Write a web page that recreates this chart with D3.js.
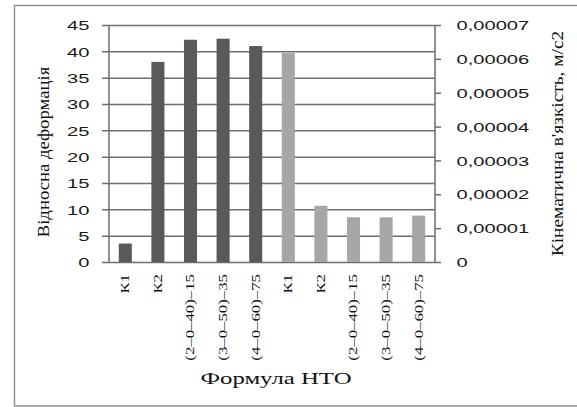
<!DOCTYPE html>
<html>
<head>
<meta charset="utf-8">
<script src="https://cdn.jsdelivr.net/npm/d3@7"></script>
<style>
  html, body { margin: 0; padding: 0; background: #fff; }
  svg { display: block; }
</style>
</head>
<body>
<svg id="chart" width="577" height="407"></svg>
<script>
// Categories along the x axis (two groups of the same five formulas)
const categories = ["К1", "К2", "(2–0–40)–15", "(3–0–50)–35", "(4–0–60)–75",
                    "К1", "К2", "(2–0–40)–15", "(3–0–50)–35", "(4–0–60)–75"];
// Relative deformation (left axis), first five categories
const deformation = [3.5, 38, 42.2, 42.4, 41, null, null, null, null, null];
// Kinematic viscosity, m/s2 (right axis), last five categories
const viscosity = [null, null, null, null, null, 0.0000617, 0.0000166, 0.0000132, 0.0000132, 0.0000137];
// Tick values
const leftTicks = [0, 5, 10, 15, 20, 25, 30, 35, 40, 45];
const rightTicks = [0, 0.00001, 0.00002, 0.00003, 0.00004, 0.00005, 0.00006, 0.00007];

const leftTitle = "Відносна деформація";
const rightTitle = "Кінематична в'язкість, м/с2";
const xTitle = "Формула НТО";

const svg = d3.select("#chart");
const plot = { left: 109, right: 435, top: 25, bottom: 262 };

const sans = "'Liberation Sans', Arial, sans-serif";
const serif = "'Liberation Serif', 'Times New Roman', serif";
const gridColor = "#6e6e6e";
const lineW = 1.5;
const stretch = 1.55; // horizontal widening of the horizontal labels

const x = d3.scaleBand()
  .domain(d3.range(categories.length))
  .range([plot.left, plot.right])
  .paddingInner(0.6).paddingOuter(0.3);

const yL = d3.scaleLinear().domain([0, 45]).range([plot.bottom, plot.top]);
const yR = d3.scaleLinear().domain([0, 0.00007]).range([plot.bottom, plot.top]);

// Outer frame (open on the right)
svg.append("path")
  .attr("d", "M577,5.5H14.5V406H577")
  .attr("fill", "none").attr("stroke", "#8f8f8f").attr("stroke-width", 1.4);

// Gridlines: full-width lines from the left axis with a short outer tick
svg.append("g")
  .attr("transform", `translate(${plot.left},0)`)
  .call(d3.axisLeft(yL).tickValues(leftTicks).tickSizeInner(-(plot.right - plot.left)).tickSizeOuter(0).tickFormat(""))
  .call(g => g.select(".domain").remove())
  .call(g => g.selectAll(".tick line").attr("x1", -7).attr("stroke", gridColor).attr("stroke-width", lineW));

// Axis lines with the right outer ticks
svg.append("path")
  .attr("d", `M${plot.left},${plot.top}V${plot.bottom}M${plot.right},${plot.top}V${plot.bottom}`)
  .attr("fill", "none").attr("stroke", gridColor).attr("stroke-width", lineW);
svg.append("g")
  .attr("transform", `translate(${plot.right},0)`)
  .call(d3.axisRight(yR).tickValues(rightTicks).tickSizeInner(6).tickSizeOuter(0).tickFormat(""))
  .call(g => g.select(".domain").remove())
  .call(g => g.selectAll(".tick line").attr("stroke", gridColor).attr("stroke-width", lineW));

// Bars: deformation (dark) and viscosity (light)
svg.append("g").selectAll("rect").data(deformation.map((v, i) => ({ v, i })).filter(d => d.v != null))
  .join("rect")
  .attr("x", d => x(d.i)).attr("width", x.bandwidth())
  .attr("y", d => yL(d.v)).attr("height", d => yL(0) - yL(d.v))
  .attr("fill", "#595959");

svg.append("g").selectAll("rect").data(viscosity.map((v, i) => ({ v, i })).filter(d => d.v != null))
  .join("rect")
  .attr("x", d => x(d.i)).attr("width", x.bandwidth())
  .attr("y", d => yR(d.v)).attr("height", d => yR(0) - yR(d.v))
  .attr("fill", "#a6a6a6");

// Left axis labels
const gL = svg.append("g").attr("transform", `translate(${plot.left},0)`)
  .call(d3.axisLeft(yL).tickValues(leftTicks).tickSize(0).tickPadding(0));
gL.select(".domain").remove();
gL.selectAll(".tick line").remove();
gL.selectAll(".tick text")
  .attr("x", null).attr("dy", "0.36em")
  .attr("transform", `translate(-19.5,0) scale(${stretch},1)`)
  .attr("font-family", sans).attr("font-size", 13).attr("fill", "#1a1a1a");

// Right axis labels
const locale = d3.formatLocale({ decimal: ",", thousands: " ", grouping: [3], currency: ["", ""] });
const fmtR = d => d === 0 ? "0" : locale.format(".5f")(d);
const gR = svg.append("g").attr("transform", `translate(${plot.right},0)`)
  .call(d3.axisRight(yR).tickValues(rightTicks).tickFormat(fmtR).tickSize(0).tickPadding(0));
gR.select(".domain").remove();
gR.selectAll(".tick line").remove();
gR.selectAll(".tick text")
  .attr("x", null).attr("dy", "0.36em")
  .attr("transform", `translate(21.5,0) scale(${stretch},1)`)
  .attr("font-family", sans).attr("font-size", 13).attr("fill", "#1a1a1a");

// Category labels, rotated
svg.append("g").selectAll("text").data(categories).join("text")
  .attr("transform", (d, i) => `translate(${x(i) + x.bandwidth() / 2},274) rotate(-90) scale(1.4,1)`)
  .attr("dy", "0.33em")
  .attr("text-anchor", "end")
  .attr("font-family", serif).attr("font-size", 12).attr("fill", "#111")
  .text(d => d);

// Axis titles
svg.append("text")
  .attr("transform", `translate(43,152) rotate(-90) scale(1.1,1)`)
  .attr("dy", "0.35em").attr("text-anchor", "middle")
  .attr("font-family", serif).attr("font-size", 17).attr("fill", "#111")
  .text(leftTitle);

svg.append("text")
  .attr("transform", `translate(557,143.5) rotate(-90) scale(1.14,1)`)
  .attr("dy", "0.35em").attr("text-anchor", "middle")
  .attr("font-family", serif).attr("font-size", 17).attr("fill", "#111")
  .text(rightTitle);

svg.append("text")
  .attr("transform", `translate(276,384) scale(1.55,1)`)
  .attr("text-anchor", "middle")
  .attr("font-family", serif).attr("font-size", 16).attr("fill", "#111")
  .text(xTitle);
</script>
</body>
</html>
